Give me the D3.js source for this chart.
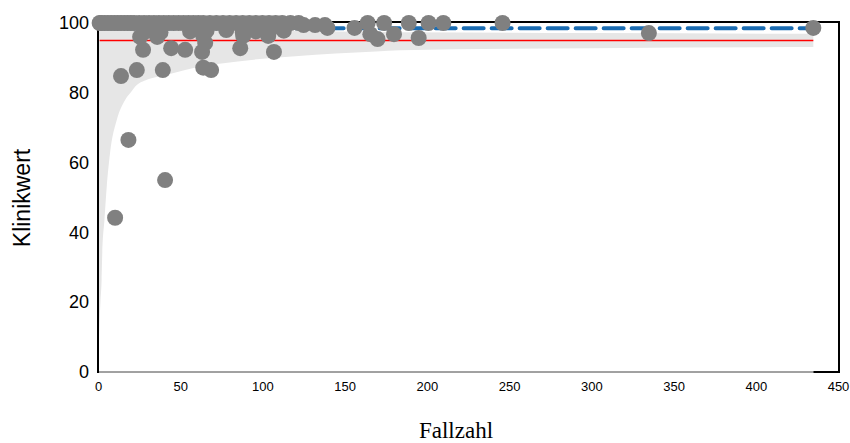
<!DOCTYPE html>
<html>
<head>
<meta charset="utf-8">
<script src="https://cdn.jsdelivr.net/npm/d3@7"></script>
<style>
  html, body { margin: 0; padding: 0; background: #fff; }
  svg { display: block; }
</style>
</head>
<body>
<svg id="chart" width="850" height="443"></svg>
<script>
// ---------- data ----------
const xTicks = [0, 50, 100, 150, 200, 250, 300, 350, 400, 450];
const yTicks = [0, 20, 40, 60, 80, 100];

// clinic points: case count (Fallzahl) and clinic value (Klinikwert)
const fallzahl = [
  1, 2, 4, 6, 8, 10, 12, 14, 16, 18, 20, 22, 25, 28, 31, 34, 37, 40, 43, 46,
  49, 52, 55, 58, 61, 64, 68, 72, 76, 80, 84, 88, 92, 96, 100, 104, 108, 112, 117, 122,
  125, 132, 138, 139.5, 156, 164, 174, 189, 201, 210, 246,
  29, 38, 56, 66, 78, 88, 96, 105, 113,
  10.4, 18.5, 40.8, 14, 23.6, 39.4, 64, 68.8,
  27.4, 44.5, 53, 63.3, 65.2, 64, 25.6, 36,
  86.5, 88.3, 103.5, 107,
  165.6, 170, 180, 195, 335, 435
];
const klinikwert = [
  100, 100, 100, 100, 100, 100, 100, 100, 100, 100, 100, 100, 100, 100, 100, 100, 100, 100, 100, 100,
  100, 100, 100, 100, 100, 100, 100, 100, 100, 100, 100, 100, 100, 100, 100, 100, 100, 100, 100, 100,
  99.4, 99.4, 99.4, 98.6, 98.6, 100, 100, 100, 100, 100, 100,
  97.6, 97.3, 97.6, 97.8, 98.0, 97.4, 97.6, 98.3, 97.8,
  44.2, 66.5, 55.0, 84.8, 86.5, 86.5, 87.2, 86.5,
  92.3, 92.8, 92.3, 91.7, 94.3, 96.3, 96.0, 96.0,
  92.8, 96.3, 96.3, 91.7,
  96.8, 95.4, 96.8, 95.7, 97.1, 98.6
];

// reference value (red) and overall value (blue dashed)
const referenzwert = 95;
const gesamtwert = 98.5;
const lineStart = 1;
const lineEnd = 435;

// funnel band limits
const lowerN = [0.5, 1, 1.5, 2.2, 2.6, 3.9, 5.3, 7.3, 11.4, 16.4, 22.5, 30, 46, 60, 85, 120, 184, 300, 435];
const lowerV = [8, 15, 20, 26.4, 34, 43.5, 53, 62.7, 72.2, 77.9, 81.7, 83.8, 85.7, 87.3, 89, 90.5, 92.2, 92.8, 93.1];
const upperN = [0.5, 20, 40, 85, 169, 300, 435];
const upperV = [100, 99.6, 99, 98, 97.4, 97.1, 96.9];

// ---------- drawing ----------
const svg = d3.select("#chart");
const x = d3.scaleLinear().domain([0, 450]).range([98, 838]);
const y = d3.scaleLinear().domain([0, 100]).range([372, 23]);

// frame
svg.append("rect")
  .attr("x", x(0)).attr("y", 22)
  .attr("width", x(450) + 1 - x(0)).attr("height", y(0) - 22)
  .attr("fill", "none").attr("stroke", "#000").attr("stroke-width", 2);

// band: white below lower limit, gray between limits
const upperInterp = d3.scaleLinear().domain(upperN).range(upperV);
const lowerInterp = d3.scaleLinear().domain(lowerN).range(lowerV);

svg.append("rect")
  .attr("x", x(0) + 1).attr("y", y(60))
  .attr("width", x(lineEnd) - x(0) - 1).attr("height", y(0) - y(60) + 2)
  .attr("fill", "#fff");

const bandPts = lowerN.map((n, i) => ({ n, lo: lowerV[i], hi: upperInterp(n) }))
  .concat(upperN.filter(n => !lowerN.includes(n)).map(n => ({ n, lo: lowerInterp(n), hi: upperInterp(n) })))
  .sort((a, b) => a.n - b.n);

svg.append("path")
  .datum([{ n: 0, lo: 0, hi: 100 }].concat(bandPts))
  .attr("fill", "#e6e6e6")
  .attr("d", d3.area()
    .x(d => x(d.n))
    .y0(d => y(d.lo))
    .y1(d => y(d.hi))
    .curve(d3.curveMonotoneX));

// axis lines
svg.append("line")
  .attr("x1", x(0)).attr("x2", x(lineEnd))
  .attr("y1", y(0)).attr("y2", y(0))
  .attr("stroke", "#444").attr("stroke-width", 1);
svg.append("line")
  .attr("x1", x(0)).attr("x2", x(0))
  .attr("y1", 22).attr("y2", y(0) + 1)
  .attr("stroke", "#000").attr("stroke-width", 2);

// reference line
svg.append("line")
  .attr("x1", x(lineStart)).attr("x2", x(lineEnd))
  .attr("y1", y(referenzwert)).attr("y2", y(referenzwert))
  .attr("stroke", "#ff0000").attr("stroke-width", 1.6);

// overall dashed line
svg.append("line")
  .attr("x1", x(lineStart)).attr("x2", x(lineEnd))
  .attr("y1", y(gesamtwert)).attr("y2", y(gesamtwert))
  .attr("stroke", "#1b6cb2").attr("stroke-width", 4)
  .attr("stroke-dasharray", "20,8")
  .attr("stroke-linecap", "round");

// points
svg.append("g").selectAll("circle")
  .data(fallzahl.map((n, i) => ({ n, v: klinikwert[i] })))
  .join("circle")
  .attr("cx", d => x(d.n))
  .attr("cy", d => y(d.v))
  .attr("r", 8)
  .attr("fill", "#808080");

// x axis labels
const xAxis = svg.append("g")
  .attr("transform", `translate(0,${y(0)})`)
  .call(d3.axisBottom(x).tickValues(xTicks).tickSize(0).tickPadding(10));
xAxis.select(".domain").remove();
xAxis.selectAll("text")
  .attr("font-family", "Liberation Sans, Arial, sans-serif")
  .attr("font-size", 13).attr("fill", "#000");

// y axis labels
const yAxis = svg.append("g")
  .attr("transform", `translate(${x(0)},0)`)
  .call(d3.axisLeft(y).tickValues(yTicks).tickSize(0).tickPadding(9));
yAxis.select(".domain").remove();
yAxis.selectAll("text")
  .attr("font-family", "Liberation Sans, Arial, sans-serif")
  .attr("font-size", 18).attr("fill", "#000");

// titles
svg.append("text")
  .attr("transform", "translate(30,198) rotate(-90)")
  .attr("text-anchor", "middle")
  .attr("font-family", "Liberation Sans, Arial, sans-serif")
  .attr("font-size", 23)
  .text("Klinikwert");

svg.append("text")
  .attr("x", 456).attr("y", 438)
  .attr("text-anchor", "middle")
  .attr("font-family", "Liberation Serif, Times New Roman, serif")
  .attr("font-size", 23)
  .text("Fallzahl");
</script>
</body>
</html>
